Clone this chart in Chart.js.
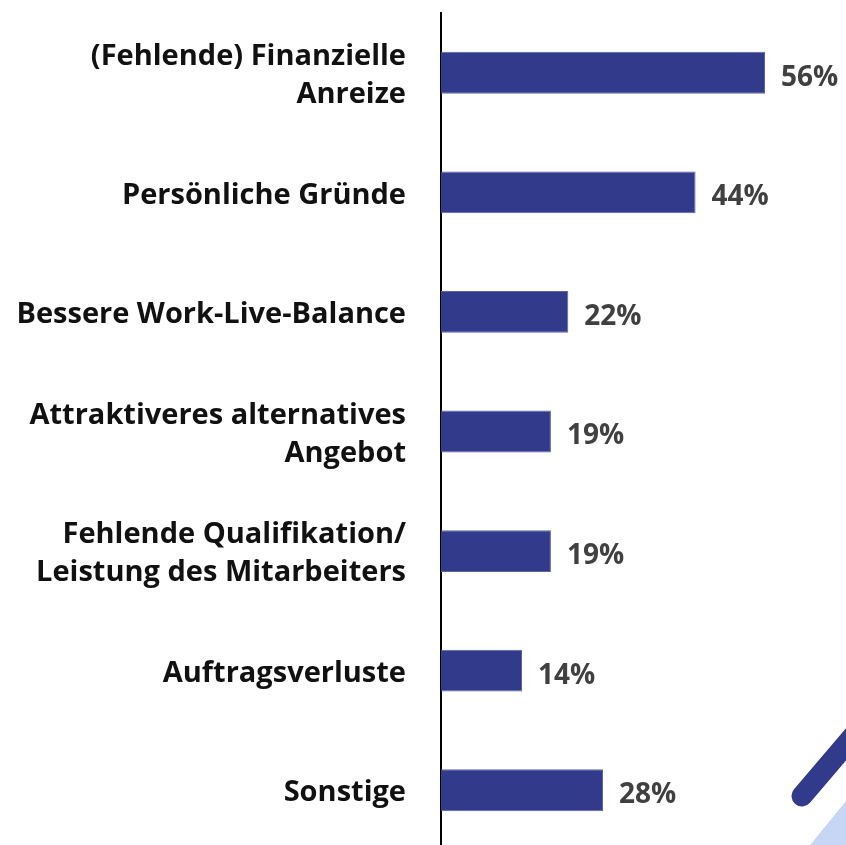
<!DOCTYPE html>
<html>
<head>
<meta charset="utf-8">
<script src="https://cdn.jsdelivr.net/npm/chart.js@4"></script>
<style>
  html, body { margin: 0; padding: 0; background: #fff; overflow: hidden; }
  #wrap { width: 846px; height: 850px; }
</style>
</head>
<body>
<div id="wrap"><canvas id="grafico" width="846" height="850"></canvas></div>
<script>
// Daten
const kategorien = [
  ["(Fehlende) Finanzielle", "Anreize"],
  "Persönliche Gründe",
  "Bessere Work-Live-Balance",
  ["Attraktiveres alternatives", "Angebot"],
  ["Fehlende Qualifikation/", "Leistung des Mitarbeiters"],
  "Auftragsverluste",
  "Sonstige"
];
const werte = [56, 44, 22, 19, 19, 14, 28];

const schrift = "'Open Sans', 'Noto Sans', sans-serif";

// Prozentwerte rechts neben die Balken
const wertLabels = {
  id: "wertLabels",
  afterDatasetsDraw(chart) {
    const ctx = chart.ctx;
    const meta = chart.getDatasetMeta(0);
    ctx.save();
    ctx.font = "700 28px " + schrift;
    ctx.fillStyle = "#404040";
    ctx.textAlign = "left";
    ctx.textBaseline = "middle";
    meta.data.forEach((bar, i) => {
      ctx.fillText(werte[i] + "%", bar.x + 16, bar.y + 5);
    });
    ctx.restore();
  }
};

// Deko unten rechts
const deko = {
  id: "deko",
  afterDraw(chart) {
    const ctx = chart.ctx;
    ctx.save();
    ctx.fillStyle = "#c6d6f4";
    ctx.beginPath();
    ctx.moveTo(806, 850);
    ctx.lineTo(846, 801);
    ctx.lineTo(846, 850);
    ctx.closePath();
    ctx.fill();

    ctx.strokeStyle = "#323a8c";
    ctx.lineWidth = 21;
    ctx.lineCap = "round";
    ctx.beginPath();
    ctx.moveTo(802, 796);
    ctx.lineTo(860, 728);
    ctx.stroke();
    ctx.restore();
  }
};

new Chart(document.getElementById("grafico"), {
  type: "bar",
  data: {
    labels: kategorien,
    datasets: [{
      data: werte,
      backgroundColor: "#323a8c",
      borderColor: "#5d64a6",
      borderWidth: 1,
      borderSkipped: "left",
      categoryPercentage: 1,
      barPercentage: 0.35
    }]
  },
  options: {
    indexAxis: "y",
    responsive: false,
    maintainAspectRatio: false,
    animation: false,
    layout: { padding: { top: 13, right: 0, bottom: 0, left: 0 } },
    plugins: {
      legend: { display: false },
      tooltip: { enabled: false }
    },
    scales: {
      x: {
        display: false,
        min: 0,
        max: 70
      },
      y: {
        afterFit(scale) {
          scale.width = 441;
          scale.paddingTop = 0;
          scale.paddingBottom = 0;
        },
        grid: { display: false, drawTicks: false },
        border: { display: true, color: "#000", width: 2 },
        ticks: {
          color: "#111",
          padding: 35,
          labelOffset: 3,
          font: { family: schrift, size: 29, weight: "700", lineHeight: 1.3 }
        }
      }
    }
  },
  plugins: [wertLabels, deko]
});
</script>
</body>
</html>
